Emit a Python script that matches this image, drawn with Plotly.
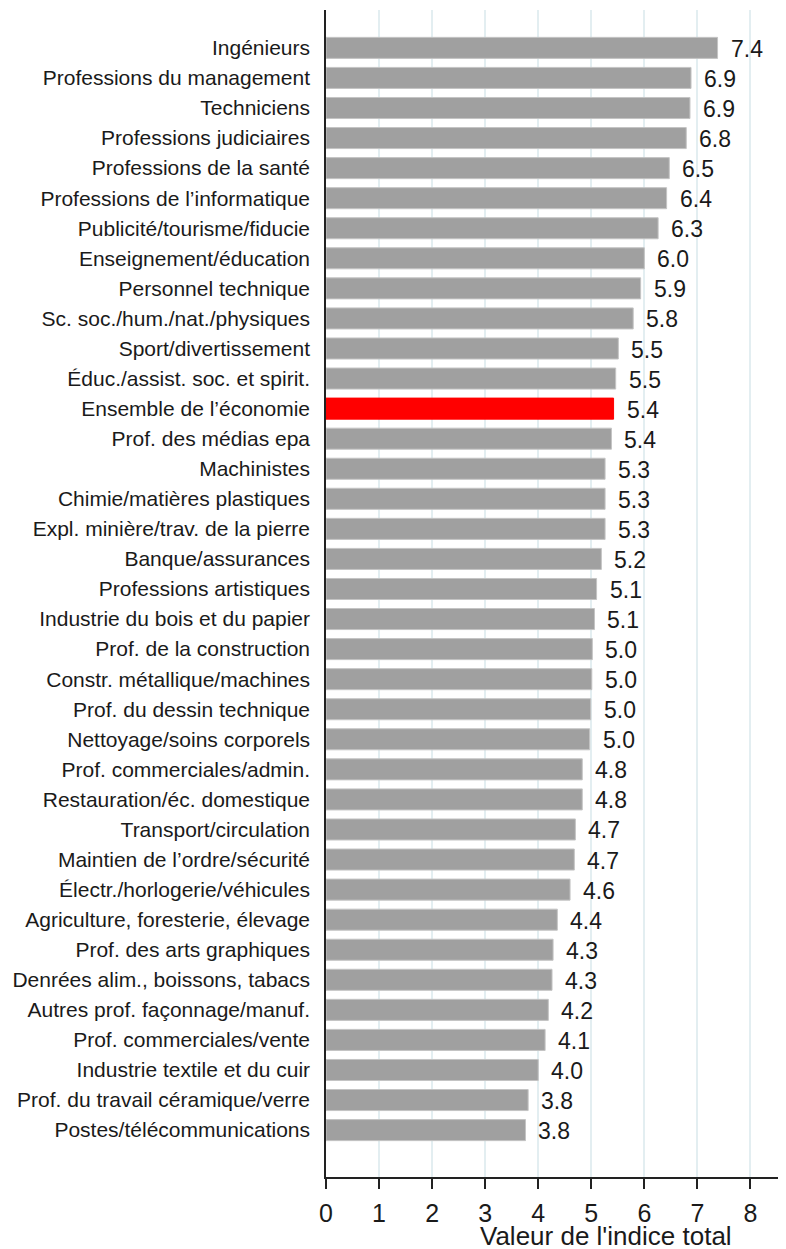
import plotly.graph_objects as go

categories = [
    "Ingénieurs", "Professions du management", "Techniciens", "Professions judiciaires",
    "Professions de la santé", "Professions de l’informatique", "Publicité/tourisme/fiducie",
    "Enseignement/éducation", "Personnel technique", "Sc. soc./hum./nat./physiques",
    "Sport/divertissement", "Éduc./assist. soc. et spirit.", "Ensemble de l’économie",
    "Prof. des médias epa", "Machinistes", "Chimie/matières plastiques",
    "Expl. minière/trav. de la pierre", "Banque/assurances", "Professions artistiques",
    "Industrie du bois et du papier", "Prof. de la construction", "Constr. métallique/machines",
    "Prof. du dessin technique", "Nettoyage/soins corporels", "Prof. commerciales/admin.",
    "Restauration/éc. domestique", "Transport/circulation", "Maintien de l’ordre/sécurité",
    "Électr./horlogerie/véhicules", "Agriculture, foresterie, élevage", "Prof. des arts graphiques",
    "Denrées alim., boissons, tabacs", "Autres prof. façonnage/manuf.", "Prof. commerciales/vente",
    "Industrie textile et du cuir", "Prof. du travail céramique/verre", "Postes/télécommunications",
]
values = [
    7.38, 6.88, 6.86, 6.79, 6.47, 6.42, 6.26, 6.0, 5.93, 5.79, 5.51, 5.46, 5.42, 5.38,
    5.26, 5.26, 5.26, 5.19, 5.1, 5.06, 5.02, 5.01, 4.99, 4.97, 4.83, 4.83, 4.7, 4.68,
    4.6, 4.36, 4.28, 4.26, 4.19, 4.13, 4.0, 3.81, 3.76,
]
highlight = "Ensemble de l’économie"
tick_vals = [0, 1, 2, 3, 4, 5, 6, 7, 8]

FONT = "Liberation Sans, Arial"
colors = ["#ff0000" if c == highlight else "#a0a0a0" for c in categories]
line_colors = ["#ff0000" if c == highlight else "#c4c4c4" for c in categories]

fig = go.Figure()
fig.add_trace(go.Bar(
    x=values, y=categories, orientation="h",
    marker=dict(color=colors, line=dict(color=line_colors, width=1)),
    width=0.7, showlegend=False, hoverinfo="skip",
))

for c, v in zip(categories, values):
    fig.add_annotation(
        x=v, y=c, text=f"{v:.1f}", showarrow=False, xanchor="left", yanchor="middle",
        xshift=11, yshift=-1, font=dict(family=FONT, size=23, color="#1a1a1a"),
    )

fig.add_annotation(
    x=0.609, y=-0.036, xref="paper", yref="paper", text="Valeur de l'indice total",
    showarrow=False, xanchor="center", yanchor="top",
    font=dict(family=FONT, size=26, color="#1a1a1a"),
)

fig.update_layout(
    width=778, height=1241,
    margin=dict(l=318, r=0, t=2, b=72),
    plot_bgcolor="white", paper_bgcolor="white",
    xaxis=dict(
        range=[0, 8.67], tickvals=tick_vals, showgrid=True, gridcolor="#e3eef1", gridwidth=2,
        zeroline=False, showline=True, linecolor="#222222", linewidth=1.5,
        ticks="outside", ticklen=10, tickcolor="#222222", tickwidth=1.5,
        ticklabelstandoff=3,
        tickfont=dict(family=FONT, size=25, color="#1a1a1a"),
    ),
    yaxis=dict(
        type="category", categoryorder="array", categoryarray=categories,
        range=[37.56, -1.26], showgrid=False, zeroline=False,
        showline=True, linecolor="#222222", linewidth=1.5, ticks="",
        ticklabelstandoff=10,
        tickfont=dict(family=FONT, size=21, color="#1a1a1a"),
    ),
)

fig.write_html("out.html")
